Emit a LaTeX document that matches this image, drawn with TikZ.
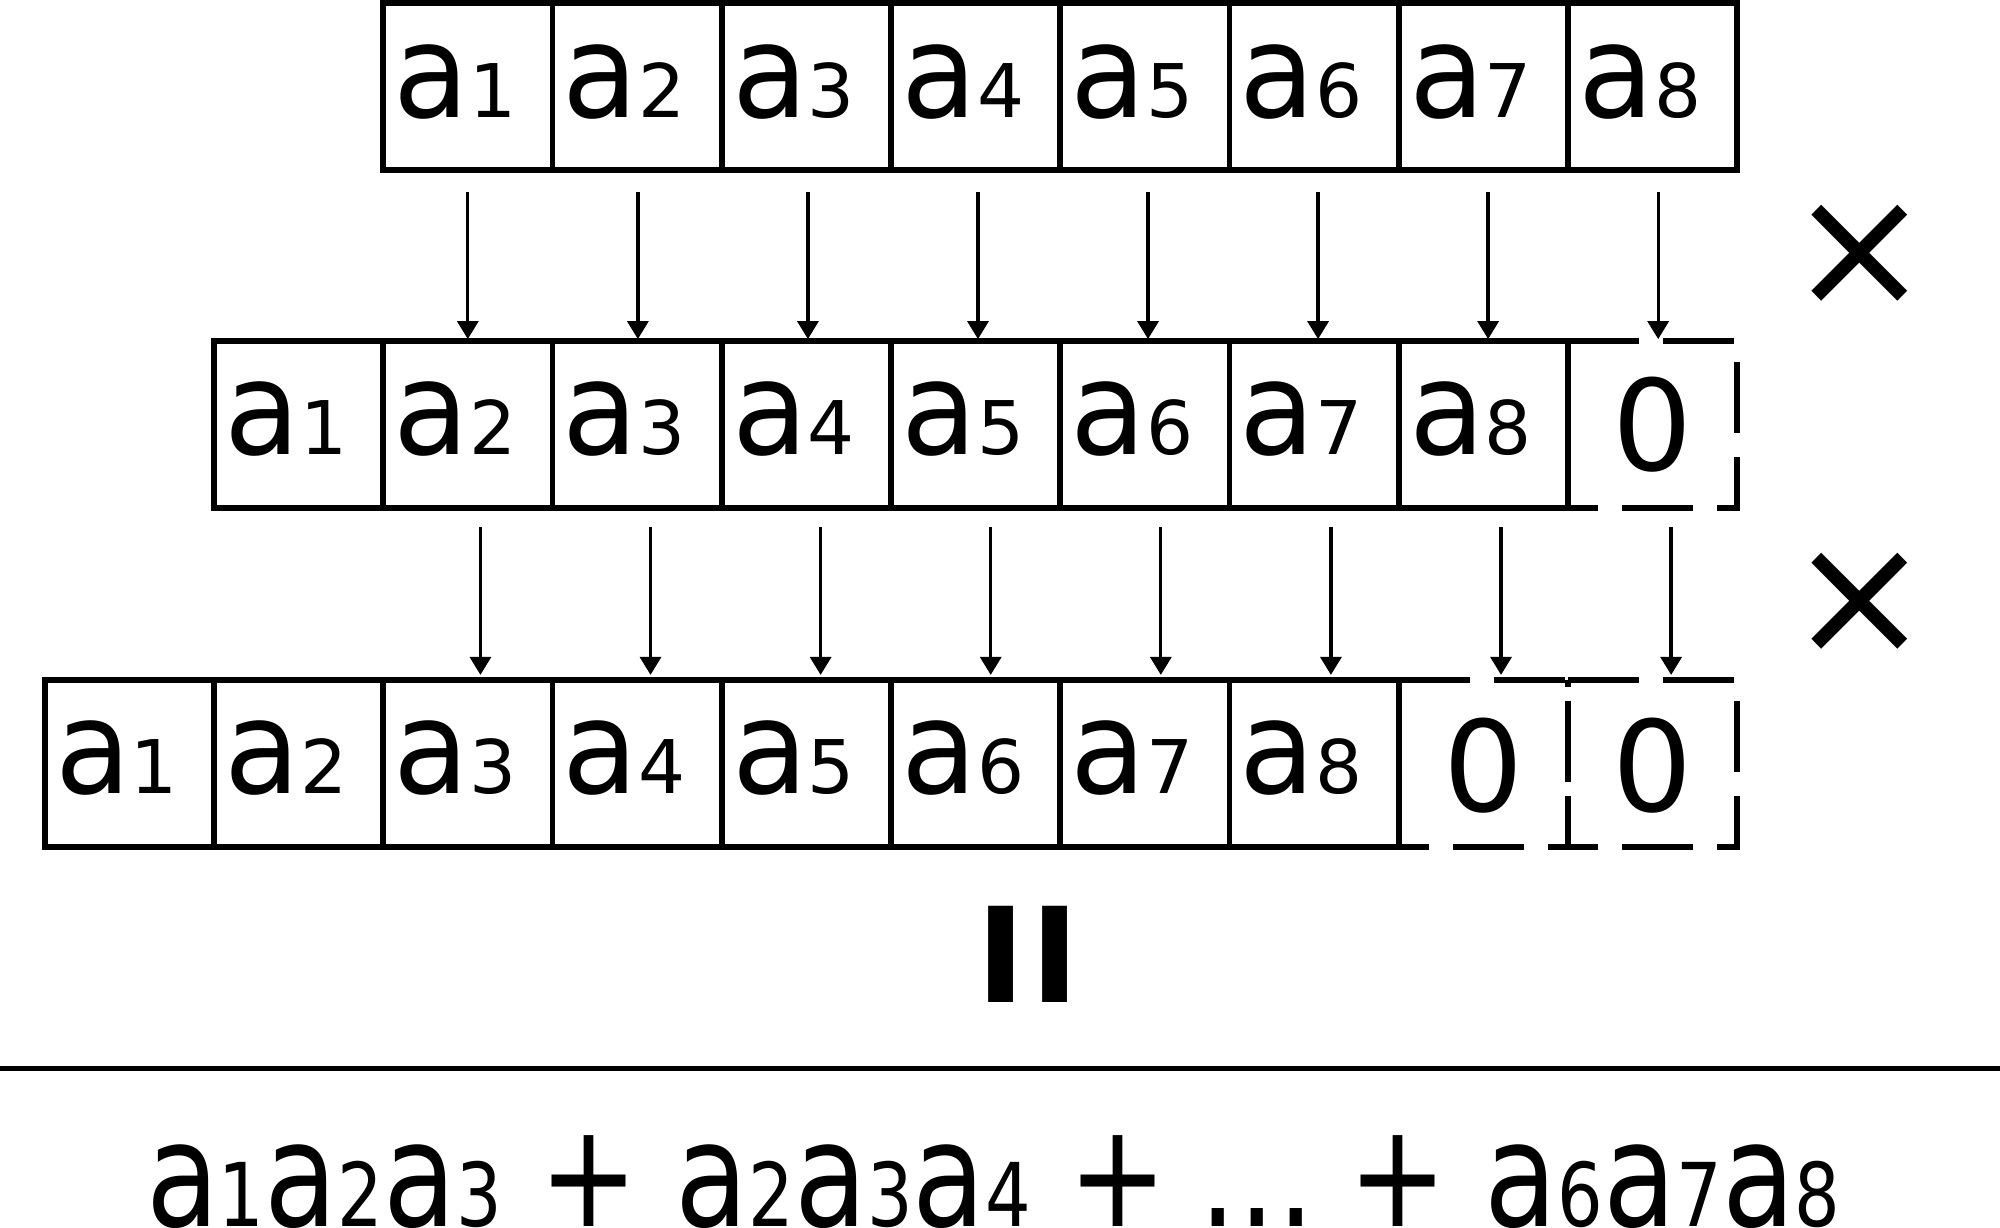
\documentclass[tikz,border=0pt]{standalone}
\usepackage{fontspec}
\setmainfont{DejaVu Sans}
\newfontfamily\cellafont{DejaVu Sans}[FakeStretch=0.95]
\newfontfamily\formfont{DejaVu Sans}[FakeStretch=0.815]
\usetikzlibrary{arrows.meta}
\newcommand{\cellA}[1]{{\cellafont\fontsize{130}{130}\selectfont a}{\fontsize{74}{74}\selectfont #1}}
\newcommand{\sumA}[1]{{\fontsize{146}{146}\selectfont a}{\fontsize{88}{88}\selectfont #1}}
\tikzset{
  cell/.style={rectangle, draw, line width=5.8pt, minimum width=169.25pt, minimum height=166.8pt, inner sep=0pt, outer sep=0pt},
  ghost/.style={rectangle, minimum width=169.25pt, minimum height=166.8pt, inner sep=0pt, outer sep=0pt},
  dashline/.style={line width=5.8pt, dash pattern=on 71pt off 24pt},
  lbl/.style={anchor=base west, inner sep=0pt, outer sep=0pt},
  zero/.style={inner sep=0pt, outer sep=0pt, font=\fontsize{126}{126}\selectfont},
  arr/.style={line width=3.3pt, -{Triangle[length=18pt,width=21pt]}},
  timesign/.style={inner sep=0pt, outer sep=0pt, font=\fontsize{170}{170}\selectfont},
}
\begin{document}
\begin{tikzpicture}[x=1pt,y=1pt]
\useasboundingbox (0,0) rectangle (2000,-1228);
% row 1
\foreach \i in {1,...,8} {
  \pgfmathsetmacro\cx{383.2+(\i-0.5)*169.25}
  \node[cell] (r1c\i) at (\cx,-86.75) {};
  \node[lbl] (t1c\i) at ([xshift=10.5pt,yshift=53pt]r1c\i.south west) {\cellA{\i}};
}
% row 2
\foreach \i in {1,...,8} {
  \pgfmathsetmacro\cx{213.95+(\i-0.5)*169.25}
  \node[cell] (r2c\i) at (\cx,-424.5) {};
  \node[lbl] (t2c\i) at ([xshift=10.5pt,yshift=53pt]r2c\i.south west) {\cellA{\i}};
}
\pgfmathsetmacro\cx{213.95+8.5*169.25}
\node[ghost] (r2c9) at (\cx,-424.5) {};
\draw[dashline] (r2c9.north west) -- (r2c9.north east) -- (r2c9.south east) -- (r2c9.south west) -- cycle;
\node[zero] (t2c9) at (r2c9.center) {0};
% row 3
\foreach \i in {1,...,8} {
  \pgfmathsetmacro\cx{44.7+(\i-0.5)*169.25}
  \node[cell] (r3c\i) at (\cx,-763.3) {};
  \node[lbl] (t3c\i) at ([xshift=10.5pt,yshift=53pt]r3c\i.south west) {\cellA{\i}};
}
\foreach \i in {9,10} {
  \pgfmathsetmacro\cx{44.7+(\i-0.5)*169.25}
  \node[ghost] (r3c\i) at (\cx,-763.3) {};
  \draw[dashline] (r3c\i.north west) -- (r3c\i.north east) -- (r3c\i.south east) -- (r3c\i.south west) -- cycle;
  \node[zero] (t3c\i) at ([yshift=-2pt]r3c\i.center) {0};
}
% arrows row 1 -> row 2
\foreach \i in {1,...,8} {
  \pgfmathtruncatemacro\j{\i+1}
  \pgfmathsetmacro\dx{(\i-1)*0.8}
  \draw[arr] ([xshift=\dx pt,yshift=-22pt]r1c\i.south) -- ([xshift=\dx pt,yshift=2pt]r2c\j.north);
}
% arrows row 2 -> row 3
\foreach \i in {2,...,9} {
  \pgfmathtruncatemacro\j{\i+1}
  \pgfmathsetmacro\dx{12.6+(\i-2)*0.85}
  \draw[arr] ([xshift=\dx pt,yshift=-19pt]r2c\i.south) -- ([xshift=\dx pt,yshift=5pt]r3c\j.north);
}
% multiplication signs
\node[timesign] (m1) at (1859.5,-256) {×};
\node[timesign] (m2) at (1859.5,-604) {×};
% equals
\node[anchor=base, inner sep=0pt] (eq) at (1028,-1002) {\bfseries\fontsize{132}{132}\selectfont I\kern4.5pt I};
% rule
\coordinate (hl) at (0,-1068.6);
\coordinate (hr) at (2000,-1068.6);
\draw[line width=5.5pt] (hl) -- (hr);
% formula
\node[lbl] (sum) at (146,-1226) {\formfont\fontsize{145}{145}\selectfont \sumA{1}\sumA{2}\sumA{3} + \sumA{2}\sumA{3}\sumA{4} + \kern-6pt.\kern1.5pt.\kern1.5pt.\kern-17pt{} + \sumA{6}\sumA{7}\sumA{8}};
\end{tikzpicture}
\end{document}
